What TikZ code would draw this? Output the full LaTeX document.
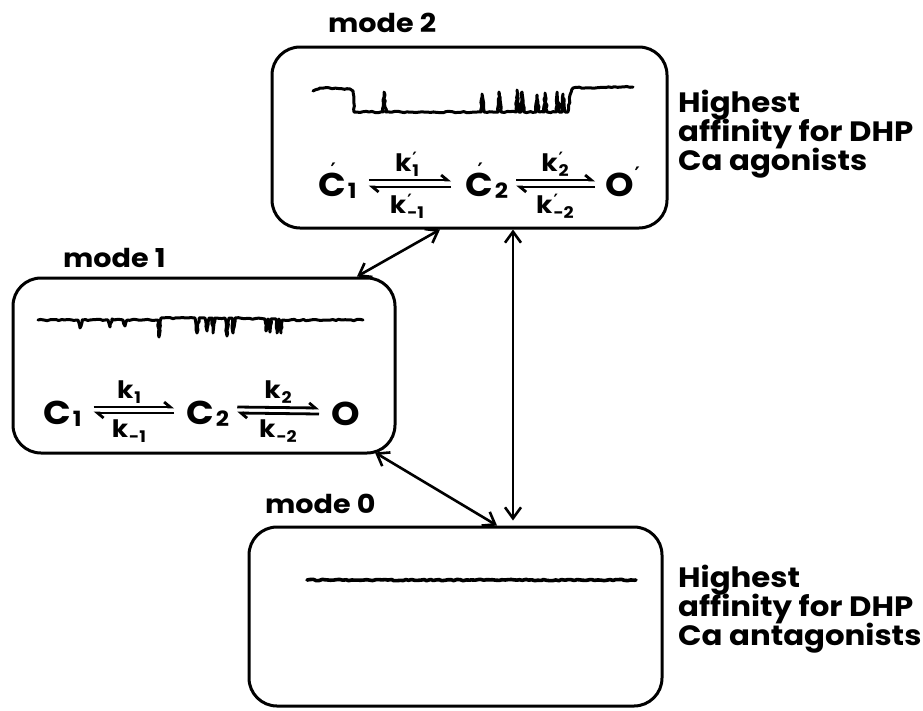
\documentclass[tikz,border=0pt]{standalone}
\usepackage{fontspec}
\setmainfont{Poppins}[FakeStretch=1.1]
\newfontfamily\djv{DejaVu Sans}
\usetikzlibrary{arrows.meta,decorations.pathmorphing}
\newcommand\fsz[1]{\fontsize{#1}{#1}\selectfont}
\newcommand\cpr{\llap{\raisebox{19pt}{\djv\bfseries\fsz{20}′}\kern10pt}}
\newcommand\opr{\kern1pt\raisebox{15pt}{\djv\bfseries\fsz{20}′}}
\newcommand\csub[1]{\kern2pt\raisebox{-2pt}{\fsz{21}#1}}
\newcommand\kl[2]{k\ifx#1p\rlap{\kern1pt\raisebox{7pt}{\djv\bfseries\fsz{17}′}}\fi\kern1pt\raisebox{-5pt}{\fsz{16}#2}}
\begin{document}
\begin{tikzpicture}[x=1pt,y=-1pt,
  modebox/.style={draw,line width=3pt,rounded corners=28pt,inner sep=0pt},
  lbl/.style={font=\bfseries\fsz{26},inner sep=0pt,anchor=base west},
  side/.style={font=\bfseries\fsz{28},inner sep=0pt,anchor=base west,align=left},
  spc/.style={font=\bfseries\fsz{33},inner sep=0pt,anchor=base west},
  klab/.style={font=\bfseries\fsz{24},inner sep=0pt,anchor=base},
  trace/.style={line width=3pt,line join=round,line cap=round,
    decorate,decoration={random steps,segment length=3pt,amplitude=0.7pt}},
  conn/.style={line width=2.6pt,{Straight Barb[length=11pt,width=16pt]}-{Straight Barb[length=11pt,width=16pt]}},
  fwd/.style={line width=2.8pt,-{Straight Barb[harpoon,length=6pt,width=10pt]}},
]
\useasboundingbox (0,0) rectangle (923,710);
\pgfmathsetseed{7}

% boxes
\node[modebox,minimum width=395pt,minimum height=181pt] (m2) at (469.5,137.5) {};
\node[modebox,minimum width=382pt,minimum height=175pt] (m1) at (204,365.5) {};
\node[modebox,minimum width=413pt,minimum height=179pt] (m0) at (455.5,616.5) {};

% mode labels
\node[lbl] (l2) at (328,32) {mode 2};
\node[lbl] (l1) at (63,267) {mode 1};
\node[lbl] (l0) at (265,513) {mode 0};

% side texts
\node[side] (s2a) at (678,112) {Highest};
\node[side] (s2b) at (678,141) {affinity for DHP};
\node[side] (s2c) at (678,170) {Ca agonists};
\node[side] (s0a) at (678,587) {Highest};
\node[side] (s0b) at (678,616) {affinity for DHP};
\node[side] (s0c) at (678,645) {Ca antagonists};

% traces
\draw[trace] (313,91) -- (320,88) -- (350,89) -- (353,91) -- (354,112) -- (383,112) -- (384,92) -- (386,112)
  -- (481,112) -- (482,94) -- (484,112) -- (498,112) -- (499,92) -- (501,112) -- (516,112) -- (517,90)
  -- (519,112) -- (521,112) -- (522,92) -- (524,112) -- (536,112) -- (537,95) -- (539,112) -- (544,112)
  -- (545,93) -- (547,112) -- (556,112) -- (557,92) -- (559,112) -- (562,112) -- (563,94) -- (565,112)
  -- (568,112) -- (570,95) -- (573,88) -- (633,87);
\draw[trace] (38,320) -- (78,320) -- (80,328) -- (82,320) -- (108,320) -- (110,327) -- (112,319)
  -- (123,320) -- (125,326) -- (127,320) -- (158,320) -- (159,337) -- (161,318) -- (195,318) -- (197,333)
  -- (199,318) -- (205,318) -- (207,331) -- (209,318) -- (212,318) -- (213,333) -- (215,318) -- (225,318)
  -- (227,336) -- (229,318) -- (232,318) -- (233,333) -- (235,318) -- (265,319) -- (266,331) -- (268,319)
  -- (270,332) -- (271,319) -- (276,319) -- (277,333) -- (279,319) -- (281,333) -- (282,320) -- (363,320);
\draw[trace,line width=3.6pt] (307,580) -- (636,580);

% mode 2 scheme
\node[spc] (a1) at (318,196) {C\cpr\csub{1}};
\node[spc] (a2) at (465,196) {C\cpr\csub{2}};
\node[spc] (a3) at (605,196) {O\opr};
\draw[fwd] ([shift={(12,-16)}]a1.base east) -- ([shift={(-14,-16)}]a2.base west);
\draw[fwd] ([shift={(-14,-9)}]a2.base west) -- ([shift={(12,-9)}]a1.base east);
\draw[fwd] ([shift={(8,-16)}]a2.base east) -- ([shift={(-10,-16)}]a3.base west);
\draw[fwd] ([shift={(-10,-9)}]a3.base west) -- ([shift={(8,-9)}]a2.base east);
\node[klab] (q1) at (407,171) {\kl p1};
\node[klab] (q2) at (407,213) {\kl p{-1}};
\node[klab] (q3) at (555,171) {\kl p2};
\node[klab] (q4) at (555,213) {\kl p{-2}};

% mode 1 scheme
\node[spc] (b1) at (43,424) {C\csub{1}};
\node[spc] (b2) at (186,424) {C\csub{2}};
\node[spc] (b3) at (331,425) {O};
\draw[fwd] ([shift={(12,-17)}]b1.base east) -- ([shift={(-12,-17)}]b2.base west);
\draw[fwd] ([shift={(-12,-11)}]b2.base west) -- ([shift={(12,-11)}]b1.base east);
\draw[fwd] ([shift={(8,-17)}]b2.base east) -- ([shift={(-12,-17)}]b3.base west);
\draw[fwd] ([shift={(-12,-11)}]b3.base west) -- ([shift={(8,-11)}]b2.base east);
\node[klab] (r1) at (129,398) {\kl n1};
\node[klab] (r2) at (129,437) {\kl n{-1}};
\node[klab] (r3) at (278,398) {\kl n2};
\node[klab] (r4) at (278,437) {\kl n{-2}};

% connectors between modes
\draw[conn] ([xshift=-29.5pt]m2.south) -- ([xshift=153pt]m1.north);
\draw[conn,shorten >=5pt] ([xshift=43.5pt]m2.south) -- ([xshift=57.5pt]m0.north);
\draw[conn] ([xshift=171pt,yshift=2pt]m1.south) -- ([xshift=41.5pt]m0.north);
\end{tikzpicture}
\end{document}
